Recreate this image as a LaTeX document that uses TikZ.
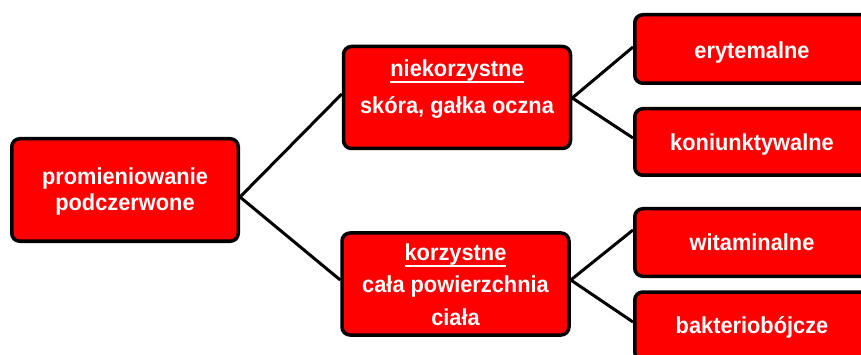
\documentclass[tikz,border=0pt]{standalone}
\usepackage{fontspec}
\usepackage{graphicx}
\setmainfont{Liberation Sans}
\usetikzlibrary{backgrounds}
\newcommand\myul[1]{\setbox0\hbox{#1}\rlap{\rule[-6pt]{\wd0}{1.8pt}}\box0}
\newcommand\mytxt[1]{\scalebox{1}[1.06]{\begin{tabular}{@{}c@{}}#1\end{tabular}}}
\tikzset{
  box/.style={draw=black, line width=3.5pt, fill=red, rounded corners=8pt, rectangle, inner sep=0pt},
  rbox/.style={box, minimum width=234.5pt},
  mbox/.style={box, minimum width=227pt, minimum height=102pt},
  txt/.style={text=white, font=\fontsize{21.8}{24}\selectfont\bfseries, inner sep=0pt},
  conn/.style={draw=black, line width=3pt}
}
\begin{document}
\begin{tikzpicture}[x=1pt,y=-1pt]
\useasboundingbox (0,0) rectangle (861,355);
% boxes
\node[box, minimum width=226.5pt, minimum height=102.5pt] (root) at (125,190) {};
\node[mbox] (mtop) at (457,97.5) {};
\node[mbox] (mbot) at (455.5,284) {};
\node[rbox, minimum height=68.5pt] (ery) at (752,49) {};
\node[rbox, minimum height=66.5pt] (kon) at (752,142) {};
\node[rbox, minimum height=67.5pt] (wit) at (752,242.5) {};
\node[rbox, minimum height=68pt] (bak) at (752,326) {};
% texts
\node[txt] (rootT) at (125,192.2) {\mytxt{promieniowanie\\podczerwone}};
\node[txt] (mtopT) at (457,89.7) {\mytxt{\myul{niekorzystne}\\[11pt]skóra, gałka oczna}};
\node[txt] (mbotT) at (455.5,287.7) {\mytxt{\myul{korzystne}\\[6pt]cała powierzchnia\\[7pt]ciała}};
\node[txt] (eryT) at (752,53.2) {\mytxt{erytemalne}};
\node[txt] (konT) at (752,145.2) {\mytxt{koniunktywalne}};
\node[txt] (witT) at (752,245.2) {\mytxt{witaminalne}};
\node[txt] (bakT) at (752,328.2) {\mytxt{bakteriobójcze}};
% connectors
\begin{scope}[on background layer]
\draw[conn] ([yshift=-7pt]root.east) -- ([yshift=3.5pt]mtop.west);
\draw[conn] ([yshift=-7pt]root.east) -- ([yshift=4pt]mbot.west);
\draw[conn] ([yshift=-0.5pt]mtop.east) -- ([yshift=2pt]ery.west);
\draw[conn] ([yshift=-0.5pt]mtop.east) -- ([yshift=4pt]kon.west);
\draw[conn] ([yshift=4pt]mbot.east) -- ([yshift=12.5pt]wit.west);
\draw[conn] ([yshift=4pt]mbot.east) -- ([yshift=4pt]bak.west);
\end{scope}
\end{tikzpicture}
\end{document}
